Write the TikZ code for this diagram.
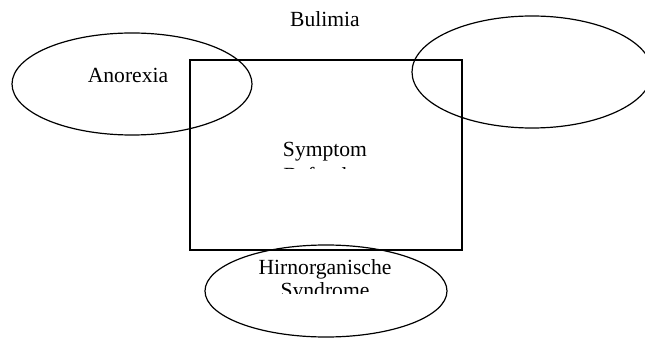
\documentclass[tikz,border=0pt]{standalone}
\usepackage{fontspec}
\setmainfont{Liberation Serif}
\tikzset{
  lbl/.style={font=\fontsize{16.2}{19}\selectfont, inner sep=0pt},
  ring/.style={line width=0.9pt}
}
\begin{document}
\begin{tikzpicture}[x=0.75pt,y=0.75pt,yscale=-1,xscale=1]
        \useasboundingbox (0,0) rectangle (645,338);
        \clip (0,0) rectangle (645,338);
        % Shape: Rectangle
        \draw [ring] (190,60) rectangle (462,250) ;
        % Shape: Ellipse
        \draw [ring] (132,84) ellipse [x radius=120, y radius=51] ;
        % Shape: Ellipse
        \draw [ring] (532,72) ellipse [x radius=120, y radius=56] ;
        % Shape: Ellipse
        \draw [ring] (326,291) ellipse [x radius=121, y radius=46] ;
        % Text Node
        \node [lbl] (bulimia) at (325,19) {Bulimia};
        % Text Node
        \node [lbl] (anorexia) at (128,75) {Anorexia};
        % Text Node
        \node [lbl] (symptom) at (325,152) {Symptom};
        \begin{scope}
          \clip (250,158) rectangle (400,168.5);
          % Text Node
          \node [lbl] (befunde) at (320,175) {Befunde};
        \end{scope}
        % Text Node
        \node [lbl] (hirn) at (325,269) {Hirnorganische};
        \begin{scope}
          \clip (250,280) rectangle (400,293);
          % Text Node
          \node [lbl] (syndrome) at (325,292) {Syndrome};
        \end{scope}
\end{tikzpicture}
\end{document}
